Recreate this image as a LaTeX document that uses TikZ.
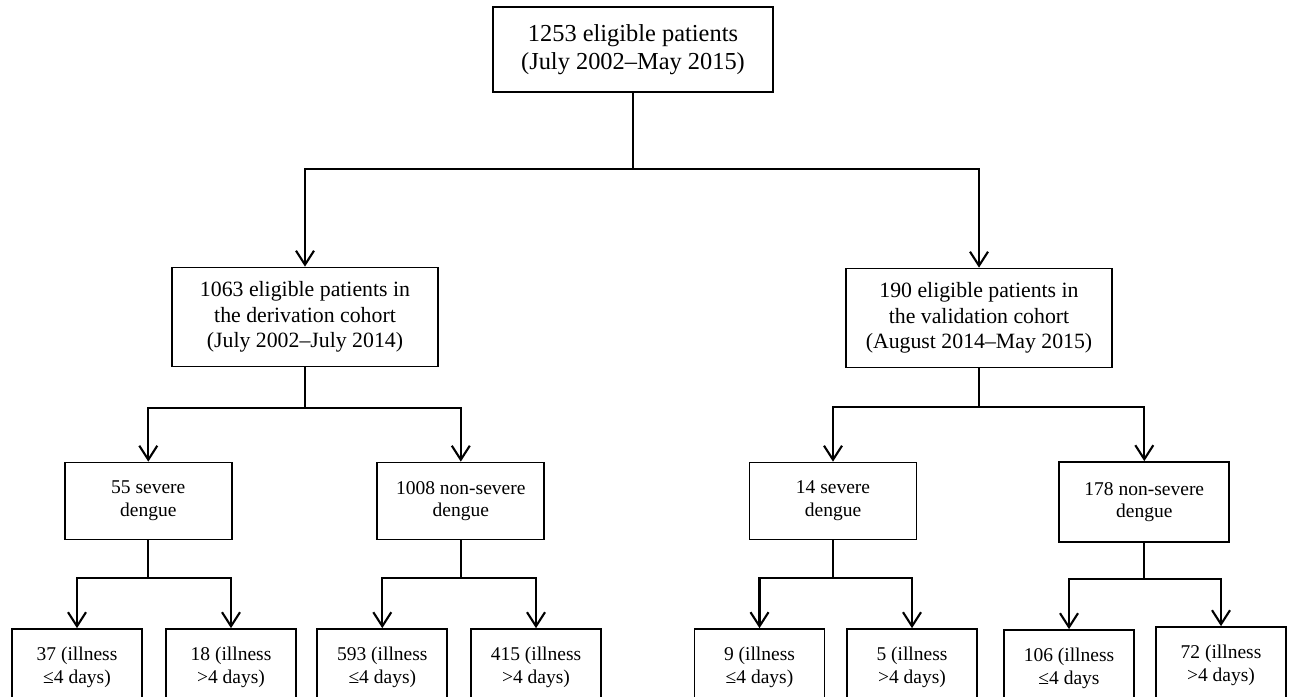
\documentclass[tikz,border=0pt]{standalone}
\usepackage{fontspec}
\setmainfont{Liberation Serif}
\usetikzlibrary{arrows.meta}
\tikzset{
  fbox/.style={draw, line width=1.7pt, align=center, inner sep=0pt},
  topbox/.style={fbox, minimum width=280pt, minimum height=85pt, font=\fontsize{24.4}{28.5}\selectfont},
  midbox/.style={fbox, minimum width=266pt, minimum height=99pt, font=\fontsize{21.8}{25.7}\selectfont},
  lowbox/.style={fbox, minimum width=167pt, minimum height=77pt, font=\fontsize{19.5}{22.7}\selectfont},
  leafbox/.style={fbox, minimum width=130pt, minimum height=76pt, font=\fontsize{19.5}{22.7}\selectfont},
  conn/.style={line width=2.1pt},
  arr/.style={conn, -{Straight Barb[length=14pt,width=18pt,line width=2.1pt]}}
}
\begin{document}
\begin{tikzpicture}[x=1pt,y=-1pt]
\useasboundingbox (0,0) rectangle (1290,696);
\clip (0,0) rectangle (1290,696);
\fill[white] (0,0) rectangle (1290,696);

\node[topbox] (top) at (633,49.5) {1253 eligible patients\\(July 2002–May 2015)};

\node[midbox] (der) at (305,317) {1063 eligible patients in\\the derivation cohort\\(July 2002–July 2014)};
\node[midbox] (val) at (979,318) {190 eligible patients in\\the validation cohort\\(August 2014–May 2015)};

\node[lowbox] (ds) at (148.3,501) {55 severe\\dengue};
\node[lowbox] (dn) at (460.8,501) {1008 non-severe\\dengue};
\node[lowbox] (vs) at (833,501) {14 severe\\dengue};
\node[lowbox, minimum width=170pt, minimum height=80pt] (vn) at (1144.3,502) {178 non-severe\\dengue};

\node[leafbox] (l1) at (77,667) {37 (illness\\≤4 days)};
\node[leafbox] (l2) at (231,667) {18 (illness\\>4 days)};
\node[leafbox] (l3) at (382.3,667) {593 (illness\\≤4 days)};
\node[leafbox] (l4) at (536,667) {415 (illness\\>4 days)};
\node[leafbox] (l5) at (759.5,667) {9 (illness\\≤4 days)};
\node[leafbox] (l6) at (912,667) {5 (illness\\>4 days)};
\node[leafbox] (l7) at (1069,668) {106 (illness\\≤4 days};
\node[leafbox] (l8) at (1221,665) {72 (illness\\>4 days)};

\coordinate (b0) at (633,169);
\coordinate (b1) at (305,407.7);
\coordinate (b2) at (979,406.7);
\coordinate (b3) at (148.3,578);
\coordinate (b4) at (460.8,578);
\coordinate (b5) at (833,578);
\coordinate (b6) at (1144.3,579);

\draw[conn] (top) -- (b0);
\draw[arr] (b0) -| (der);
\draw[arr] (b0) -| (val);

\draw[conn] (der) -- (b1);
\draw[arr] (b1) -| (ds);
\draw[arr] (b1) -| (dn);

\draw[conn] (val) -- (b2);
\draw[arr] (b2) -| (vs);
\draw[arr] (b2) -| (vn);

\draw[conn] (ds) -- (b3);
\draw[arr] (b3) -| (l1);
\draw[arr] (b3) -| (l2);

\draw[conn] (dn) -- (b4);
\draw[arr] (b4) -| (l3);
\draw[arr] (b4) -| (l4);

\draw[conn] (vs) -- (b5);
\draw[arr] (b5) -| (l5);
\draw[arr] (b5) -| (l6);

\draw[conn] (vn) -- (b6);
\draw[arr] (b6) -| (l7);
\draw[arr] (b6) -| (l8);
\end{tikzpicture}
\end{document}
